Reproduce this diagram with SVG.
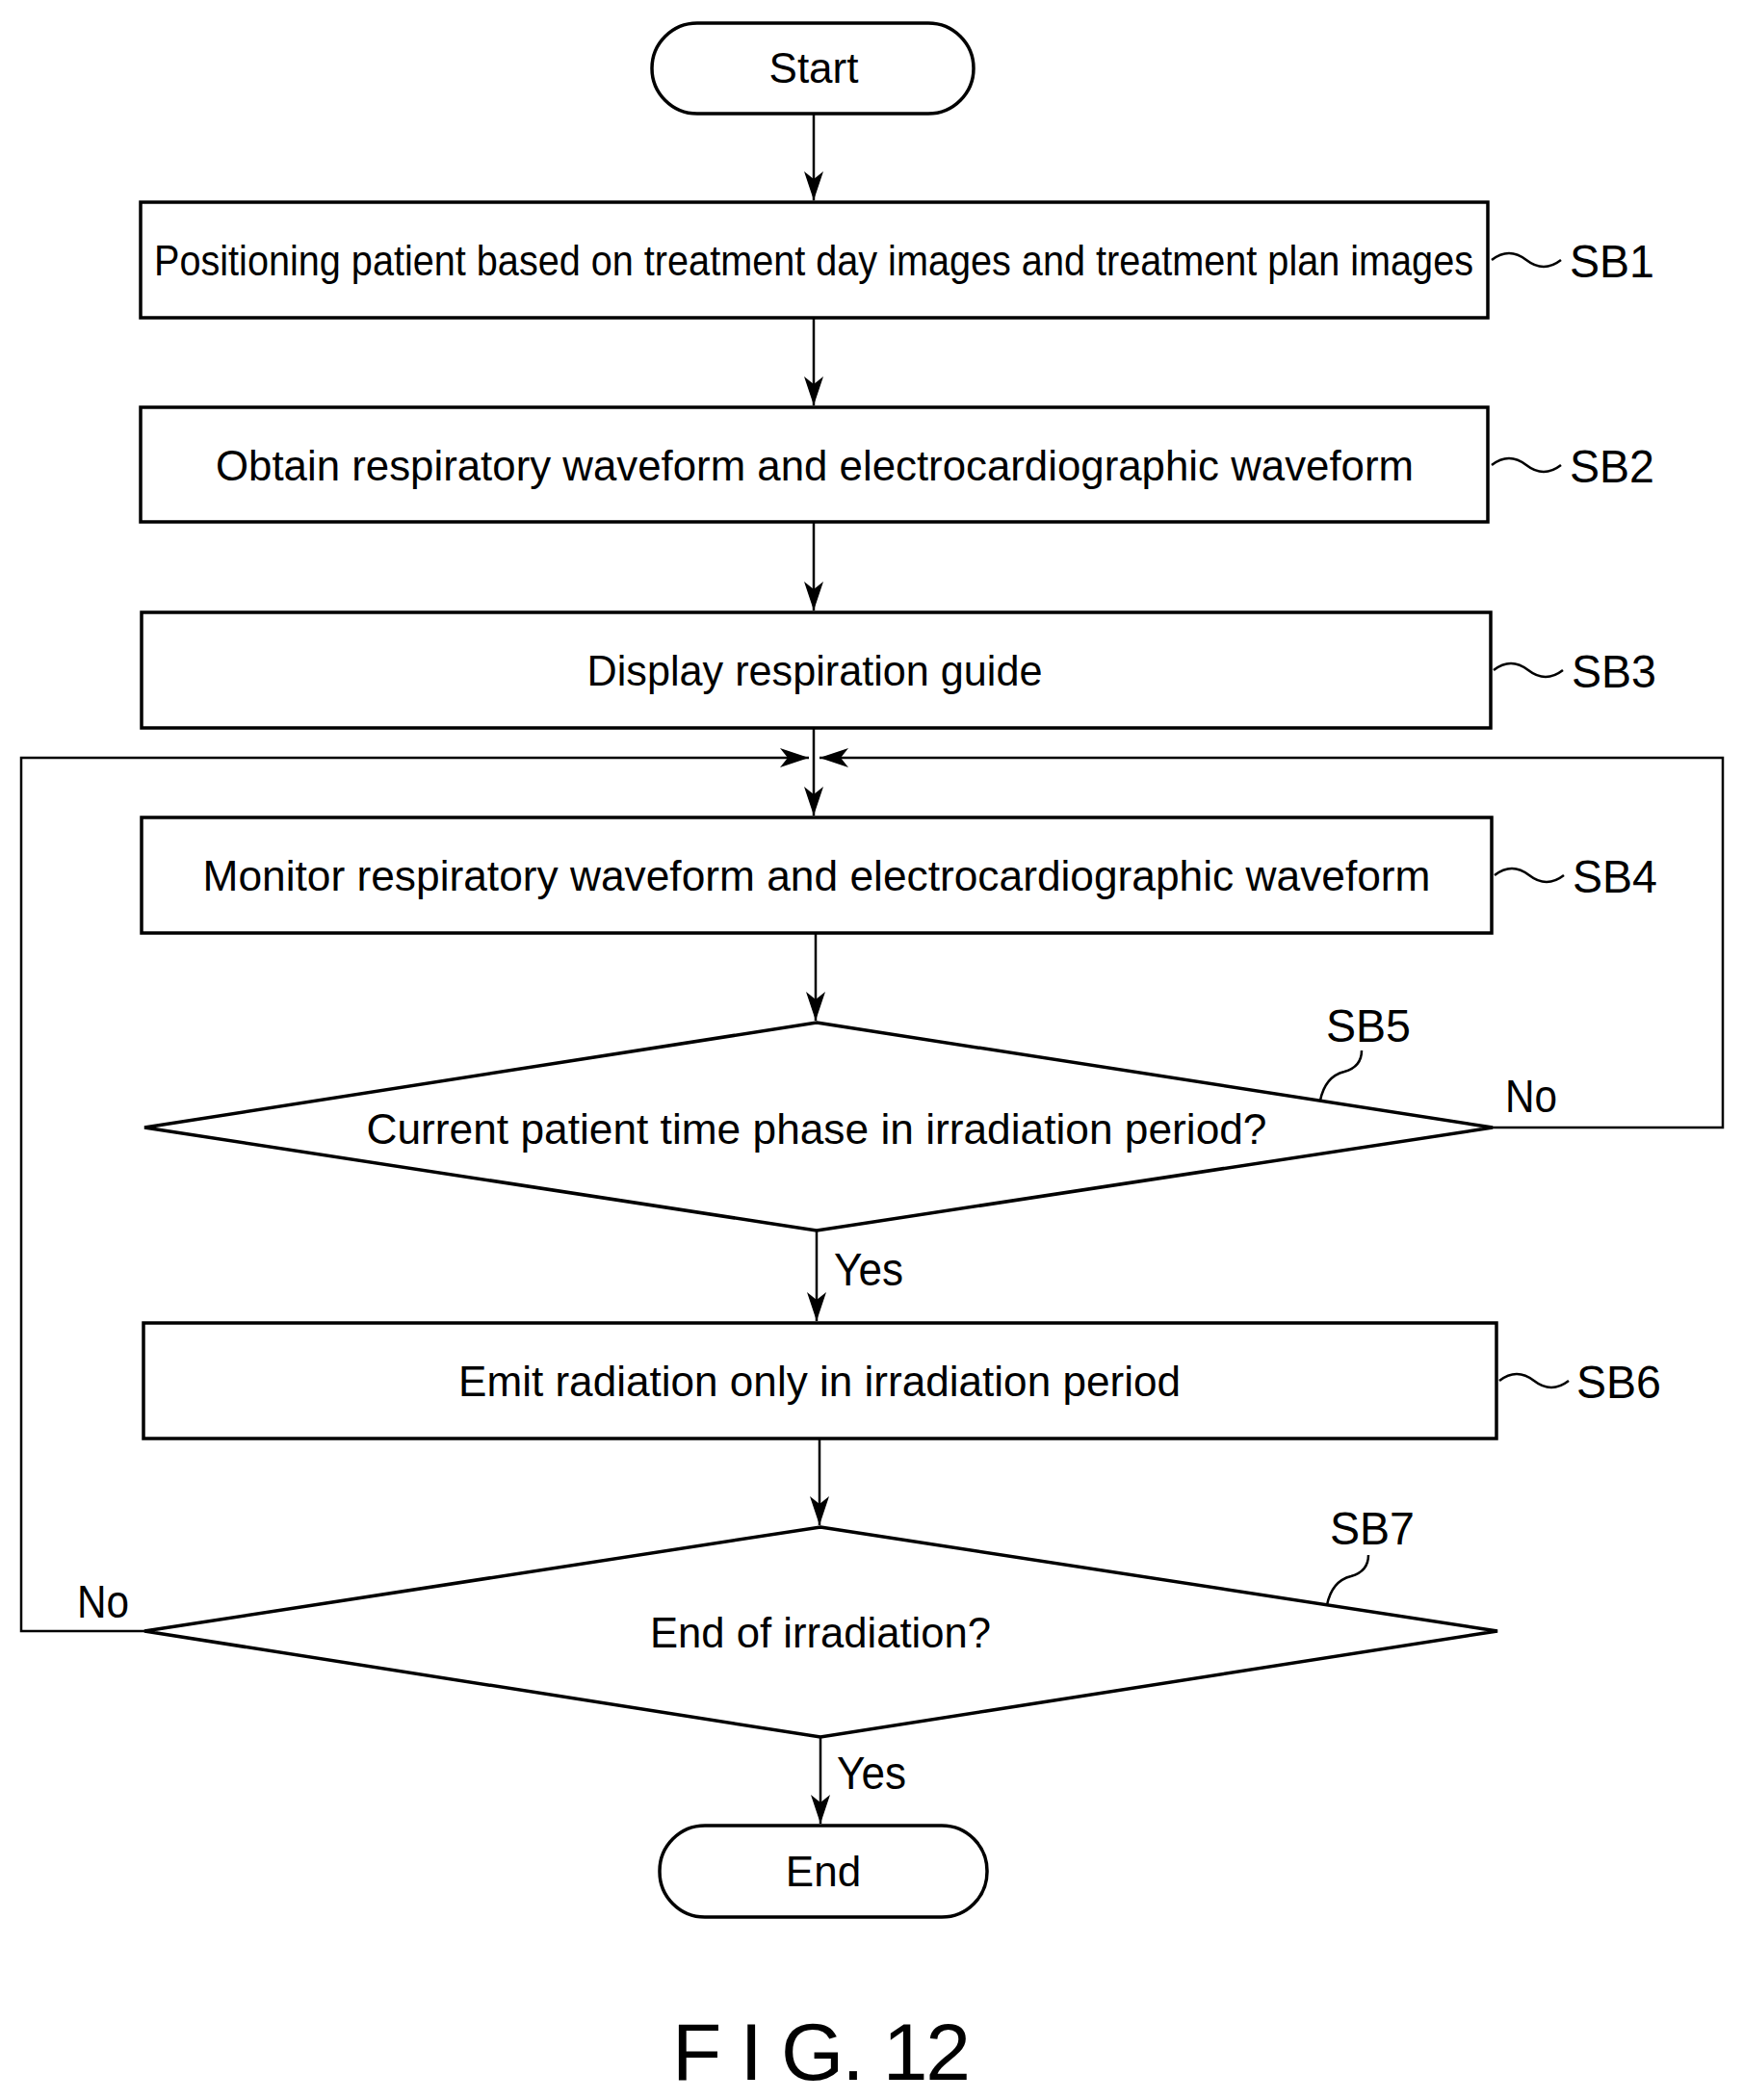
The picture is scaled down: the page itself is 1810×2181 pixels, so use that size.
<svg xmlns="http://www.w3.org/2000/svg" width="1810" height="2181" viewBox="0 0 1810 2181">
<style>
.s{fill:#fff;stroke:#000;stroke-width:3.5}
.l{fill:none;stroke:#000;stroke-width:2.5}
.t{font-family:"Liberation Sans Narrow","Liberation Sans",sans-serif;font-size:44px;text-anchor:middle;fill:#000}
.lb{font-family:"Liberation Sans Narrow","Liberation Sans",sans-serif;font-size:48px;fill:#000}
</style>
<defs><marker id="a" markerWidth="16" markerHeight="36" refX="16" refY="18" orient="auto" markerUnits="userSpaceOnUse"><path d="M0,10 L16,18 L0,26 L5,18 Z" fill="#000" transform="scale(1)"/></marker>
<marker id="b" markerWidth="36" markerHeight="36" refX="30" refY="18" orient="auto" markerUnits="userSpaceOnUse"><path d="M0,8 L30,18 L0,28 L8,18 Z" fill="#000"/></marker></defs>
<g id="connectors">
<path class="l" d="M845,118 V208" marker-end="url(#b)"/>
<path class="l" d="M845,330 V421" marker-end="url(#b)"/>
<path class="l" d="M845,542 V634" marker-end="url(#b)"/>
<path class="l" d="M845,756 V847" marker-end="url(#b)"/>
<path class="l" d="M847,969 V1060" marker-end="url(#b)"/>
<path class="l" d="M848,1278 V1372" marker-end="url(#b)"/>
<path class="l" d="M851,1494 V1584" marker-end="url(#b)"/>
<path class="l" d="M852,1804 V1894" marker-end="url(#b)"/>
<path class="l" d="M1550,1171 H1789 V787 H851" marker-end="url(#b)"/>
<path class="l" d="M150,1694 H22 V787 H840" marker-end="url(#b)"/>
<path class="l" d="M1549,270 q18,-14 36,0 t36,0"/>
<path class="l" d="M1549,483 q18,-14 36,0 t36,0"/>
<path class="l" d="M1551,696 q18,-14 36,0 t36,0"/>
<path class="l" d="M1552,909 q18,-14 36,0 t36,0"/>
<path class="l" d="M1557,1434 q18,-14 36,0 t36,0"/>
<path class="l" d="M1371,1143 q5,-25 25,-30 q18,-5 18,-22"/>
<path class="l" d="M1378,1667 q5,-25 25,-30 q18,-5 18,-22"/>
</g>
<g id="start"><rect class="s" x="677" y="24" width="334" height="94" rx="47"/><text class="t" x="845" y="86">Start</text></g>
<g id="SB1"><rect class="s" x="146" y="210" width="1399" height="120"/><text class="t" x="845" y="286" textLength="1370" lengthAdjust="spacingAndGlyphs">Positioning patient based on treatment day images and treatment plan images</text><text class="lb" x="1630" y="288" textLength="88" lengthAdjust="spacingAndGlyphs">SB1</text></g>
<g id="SB2"><rect class="s" x="146" y="423" width="1399" height="119"/><text class="t" x="846" y="499" textLength="1244" lengthAdjust="spacingAndGlyphs">Obtain respiratory waveform and electrocardiographic waveform</text><text class="lb" x="1630" y="501" textLength="88" lengthAdjust="spacingAndGlyphs">SB2</text></g>
<g id="SB3"><rect class="s" x="147" y="636" width="1401" height="120"/><text class="t" x="846" y="712" textLength="473" lengthAdjust="spacingAndGlyphs">Display respiration guide</text><text class="lb" x="1632" y="714" textLength="88" lengthAdjust="spacingAndGlyphs">SB3</text></g>
<g id="SB4"><rect class="s" x="147" y="849" width="1402" height="120"/><text class="t" x="848" y="925" textLength="1275" lengthAdjust="spacingAndGlyphs">Monitor respiratory waveform and electrocardiographic waveform</text><text class="lb" x="1633" y="927" textLength="88" lengthAdjust="spacingAndGlyphs">SB4</text></g>
<g id="SB5"><path class="s" d="M848,1062 L1550,1171 L848,1278 L150,1171 Z"/><text class="t" x="848" y="1188" textLength="935" lengthAdjust="spacingAndGlyphs">Current patient time phase in irradiation period?</text><text class="lb" x="1377" y="1082" textLength="88" lengthAdjust="spacingAndGlyphs">SB5</text><text class="lb" x="1563" y="1155" textLength="54" lengthAdjust="spacingAndGlyphs">No</text><text class="lb" x="866" y="1335" textLength="72" lengthAdjust="spacingAndGlyphs">Yes</text></g>
<g id="SB6"><rect class="s" x="149" y="1374" width="1405" height="120"/><text class="t" x="851" y="1450" textLength="750" lengthAdjust="spacingAndGlyphs">Emit radiation only in irradiation period</text><text class="lb" x="1637" y="1452" textLength="88" lengthAdjust="spacingAndGlyphs">SB6</text></g>
<g id="SB7"><path class="s" d="M852,1586 L1555,1694 L852,1804 L150,1694 Z"/><text class="t" x="852" y="1711" textLength="354" lengthAdjust="spacingAndGlyphs">End of irradiation?</text><text class="lb" x="1381" y="1604" textLength="88" lengthAdjust="spacingAndGlyphs">SB7</text><text class="lb" x="80" y="1680" textLength="54" lengthAdjust="spacingAndGlyphs">No</text><text class="lb" x="869" y="1858" textLength="72" lengthAdjust="spacingAndGlyphs">Yes</text></g>
<g id="end"><rect class="s" x="685" y="1896" width="340" height="95" rx="47"/><text class="t" x="855" y="1959">End</text></g>
<text x="698" y="2160" font-family="Liberation Sans Narrow,Liberation Sans,sans-serif" font-size="84" textLength="310" lengthAdjust="spacing">F I G. 12</text>
</svg>
